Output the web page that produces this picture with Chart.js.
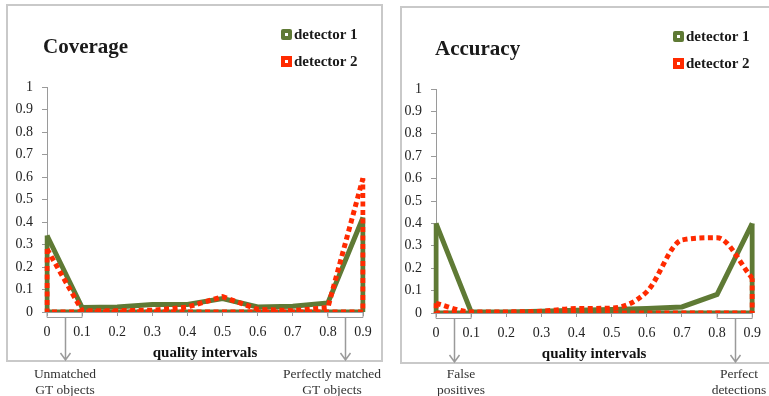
<!DOCTYPE html>
<html>
<head>
<meta charset="utf-8">
<script src="https://cdn.jsdelivr.net/npm/chart.js@4/dist/chart.umd.min.js"></script>
<style>
    html, body { margin: 0; padding: 0; background: #fff; }
    body { width: 769px; height: 396px; position: relative; overflow: hidden; font-family: "Liberation Serif", serif; color: #1a1a1a; }
    .panel { position: absolute; border: 2px solid #c9c9c9; box-sizing: border-box; }
    canvas { position: absolute; top: 0; }
    .title { position: absolute; font-size: 21px; font-weight: bold; line-height: 24px; }
    .legend { position: absolute; font-size: 15px; font-weight: bold; line-height: 16px; }
    .legend div { display: flex; align-items: center; height: 16px; margin-bottom: 11px; }
    .legend span.mark { display: inline-block; width: 11px; height: 11px; box-sizing: border-box; margin-right: 2px; }
    .mark.d1 { border: 4px solid #5f7a35; border-radius: 2px; background: #fff; }
    .mark.d2 { border: 4px dashed #ff2a00; background: #fff; }
    .note { position: absolute; width: 130px; text-align: center; font-size: 13.5px; line-height: 15.5px; color: #333; }
</style>
</head>
<body>
<div class="panel" style="left:6px; top:4px; width:377px; height:358px;"></div>
<div class="panel" style="left:400px; top:6px; width:400px; height:358px;"></div>

<canvas id="coverageChart" width="385" height="396" style="left:0"></canvas>
<canvas id="accuracyChart" width="384" height="396" style="left:385px"></canvas>

<div class="title" style="left:43px; top:34px;">Coverage</div>
<div class="title" style="left:435px; top:36px;">Accuracy</div>

<div class="legend" style="left:281px; top:26px;">
    <div><span class="mark d1"></span>detector 1</div>
    <div><span class="mark d2"></span>detector 2</div>
</div>
<div class="legend" style="left:673px; top:28px;">
    <div><span class="mark d1"></span>detector 1</div>
    <div><span class="mark d2"></span>detector 2</div>
</div>

<div class="note" style="left:0px; top:366px;">Unmatched<br>GT objects</div>
<div class="note" style="left:267px; top:366px;">Perfectly matched<br>GT objects</div>
<div class="note" style="left:396px; top:366px;">False<br>positives</div>
<div class="note" style="left:674px; top:366px;">Perfect<br>detections</div>

<script>
const xLabels = ["0", "0.1", "0.2", "0.3", "0.4", "0.5", "0.6", "0.7", "0.8", "0.9"];

const coverageDet1 = [0.34, 0.02, 0.022, 0.033, 0.033, 0.06, 0.022, 0.026, 0.04, 0.42];
const coverageDet2 = [0.28, 0.006, 0.006, 0.008, 0.022, 0.068, 0.012, 0.006, 0.02, 0.595];

const accuracyDet1 = [0.40, 0.005, 0.005, 0.008, 0.012, 0.016, 0.02, 0.027, 0.083, 0.40];
const accuracyDet2 = [0.043, 0.005, 0.005, 0.008, 0.02, 0.022, 0.095, 0.326, 0.336, 0.155];

// index ranges under the axis that get a bracket + arrow
const bracketRanges = [[0, 1], [8, 9]];

const GREEN = "#5f7a35";
const RED = "#ff2a00";
const GREY = "#9a9a9a";

Chart.defaults.font.family = "'Liberation Serif', serif";
Chart.defaults.color = "#1a1a1a";

// closes the series down to the baseline, like the outlined area in the original
const outline = (values) => [
    { x: xLabels[0], y: values[0] },
    { x: xLabels[0], y: 0 },
    { x: xLabels[xLabels.length - 1], y: 0 },
    { x: xLabels[xLabels.length - 1], y: values[values.length - 1] }
];

const series = (values, color, dashed, smooth, order) => {
    const style = {
        borderColor: color,
        borderWidth: 5,
        borderDash: dashed ? [5, 3.5] : [],
        borderCapStyle: "butt",
        borderJoinStyle: "miter",
        pointRadius: 0,
        fill: false,
        order: order
    };
    return [
        Object.assign({ data: values, tension: smooth ? 0.4 : 0, cubicInterpolationMode: smooth ? "monotone" : "default" }, style),
        Object.assign({ data: outline(values), tension: 0 }, style)
    ];
};

const bracketPlugin = {
    id: "brackets",
    afterDraw(chart, args, opts) {
        const { ctx, chartArea, scales } = chart;
        const x = scales.x;
        const top = chartArea.bottom;
        const low = top + 5;
        ctx.save();
        ctx.strokeStyle = GREY;
        ctx.lineWidth = 1;
        bracketRanges.forEach(([a, b]) => {
            const x0 = x.getPixelForValue(a);
            const x1 = x.getPixelForValue(b);
            const mid = Math.round((x0 + x1) / 2) + 0.5;
            ctx.beginPath();
            ctx.moveTo(x0, top);
            ctx.lineTo(x0, low + 0.5);
            ctx.lineTo(x1, low + 0.5);
            ctx.lineTo(x1, top);
            ctx.stroke();

            ctx.beginPath();
            ctx.lineWidth = 1.5;
            ctx.moveTo(mid, low);
            ctx.lineTo(mid, opts.arrowEnd);
            ctx.moveTo(mid - 5, opts.arrowEnd - 7);
            ctx.lineTo(mid, opts.arrowEnd);
            ctx.lineTo(mid + 5, opts.arrowEnd - 7);
            ctx.stroke();
            ctx.lineWidth = 1;
        });
        ctx.restore();
    }
};

const makeChart = (id, det1, det2, smoothDet2, geo) => {
    const canvas = document.getElementById(id);
    if (!canvas) {
        return;
    }
    new Chart(canvas, {
        type: "line",
        data: {
            labels: xLabels,
            datasets: [
                ...series(det2, RED, true, smoothDet2, 1),
                ...series(det1, GREEN, false, false, 2)
            ]
        },
        options: {
            responsive: false,
            animation: false,
            layout: { padding: { left: 0, right: geo.right, top: geo.top, bottom: geo.bottom } },
            plugins: {
                legend: { display: false },
                tooltip: { enabled: false },
                brackets: { arrowEnd: geo.arrowEnd }
            },
            scales: {
                x: {
                    type: "category",
                    offset: false,
                    afterFit: (scale) => { scale.height = geo.xHeight; },
                    grid: { drawOnChartArea: false, drawTicks: true, tickLength: 4, color: GREY },
                    border: { display: true, color: GREY, width: 1 },
                    ticks: { padding: 8, font: { size: 14 }, color: "#222", maxRotation: 0, autoSkip: false },
                    title: {
                        display: true,
                        text: "quality intervals",
                        font: { size: 15, weight: "bold" },
                        color: "#111",
                        padding: { top: 0, bottom: 4 }
                    }
                },
                y: {
                    min: 0,
                    max: 1,
                    afterFit: (scale) => { scale.width = geo.yWidth; },
                    grid: { drawOnChartArea: false, drawTicks: true, tickLength: 5, color: GREY },
                    border: { display: true, color: GREY, width: 1 },
                    ticks: {
                        stepSize: 0.1,
                        padding: 9,
                        font: { size: 14 },
                        color: "#222",
                        callback: (value) => String(+value.toFixed(1))
                    }
                }
            }
        },
        plugins: [bracketPlugin]
    });
};

makeChart("coverageChart", coverageDet1, coverageDet2, false, { right: 22, top: 87, bottom: 30, xHeight: 54, yWidth: 47, arrowEnd: 360 });
makeChart("accuracyChart", accuracyDet1, accuracyDet2, true, { right: 12, top: 89, bottom: 29, xHeight: 54, yWidth: 51, arrowEnd: 362 });
</script>
</body>
</html>
